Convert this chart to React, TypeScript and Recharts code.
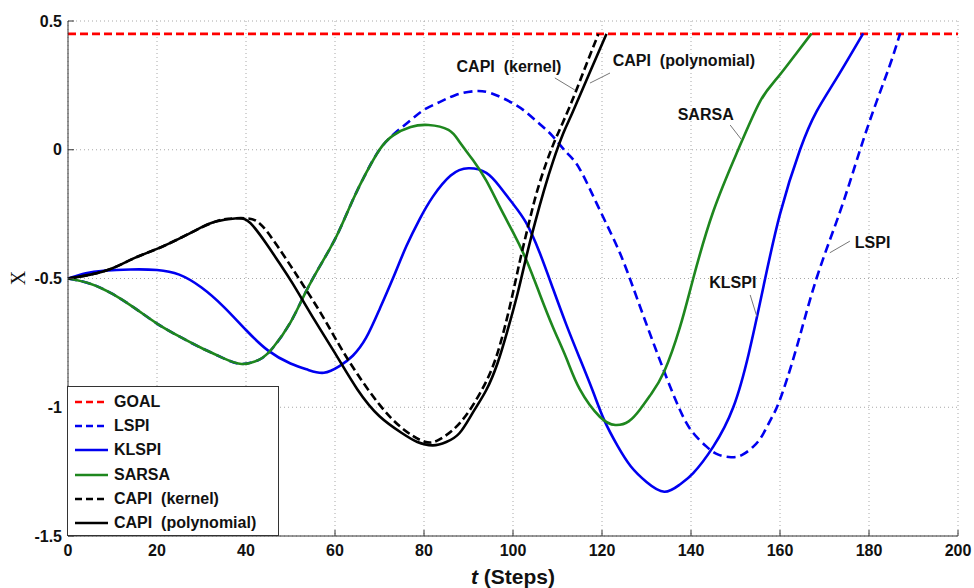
import React from 'react'
import { LineChart, Line, XAxis, YAxis, CartesianGrid, ReferenceLine, ReferenceDot } from 'recharts'

const FONT = "'Liberation Sans', Arial, Helvetica, sans-serif"

const xTicks = [0, 20, 40, 60, 80, 100, 120, 140, 160, 180, 200]
const yTicks = [-1.5, -1, -0.5, 0, 0.5]

const goalT = [0, 200]
const goalX = [0.45, 0.45]

const lspiT = [0, 5, 10, 15, 20, 25, 30, 35, 39, 43, 46, 50, 53.5, 57, 60.5, 64, 67, 70, 73.5, 77, 80, 83.5, 87, 91, 95, 100, 103, 106, 109, 112, 115, 119.5, 124, 128, 133, 137.5, 140.5, 143.5, 146, 149, 151.5, 154, 156, 158, 160, 163.7, 168.2, 173.5, 178, 181.7, 184.7, 187]
const lspiX = [-0.5, -0.52, -0.56, -0.615, -0.675, -0.725, -0.77, -0.81, -0.832, -0.815, -0.77, -0.67, -0.55, -0.44, -0.33, -0.195, -0.09, 0.0, 0.065, 0.115, 0.155, 0.185, 0.212, 0.227, 0.22, 0.18, 0.145, 0.1, 0.051, -0.01, -0.075, -0.234, -0.4, -0.583, -0.817, -1.01, -1.1, -1.153, -1.183, -1.194, -1.185, -1.153, -1.11, -1.045, -0.97, -0.77, -0.5, -0.24, 0.0, 0.187, 0.329, 0.452]

const klspiT = [0, 4, 8, 14, 20, 25, 30, 35, 40, 45, 50, 54, 57.5, 61, 64, 67, 70, 73, 76, 79, 82, 86, 90, 94, 97, 100, 103, 106, 109, 112, 115, 118, 120.5, 123.5, 126.5, 130, 134, 137.5, 140.5, 145, 149.5, 153, 156.3, 160, 164.5, 168.2, 172.7, 178.7]
const klspiX = [-0.5, -0.48, -0.47, -0.465, -0.467, -0.485, -0.535, -0.61, -0.7, -0.78, -0.83, -0.855, -0.866, -0.84, -0.8, -0.73, -0.62, -0.5, -0.376, -0.27, -0.182, -0.1, -0.072, -0.09, -0.143, -0.21, -0.285, -0.4, -0.54, -0.68, -0.81, -0.94, -1.05, -1.15, -1.23, -1.29, -1.328, -1.3, -1.256, -1.153, -1.0, -0.79, -0.53, -0.25, 0.0, 0.148, 0.277, 0.452]

const sarsaT = [0, 5, 10, 15, 20, 25, 30, 35, 39, 43, 46, 50, 53.5, 57, 60.5, 64, 67, 70, 73, 77, 81, 85.5, 88, 91, 94, 97, 100, 103, 106, 109, 112, 115, 119.5, 123, 126, 128.5, 131, 134, 137.5, 140.5, 145, 150.6, 155.5, 159.3, 163.7, 167.1]
const sarsaX = [-0.5, -0.52, -0.56, -0.615, -0.675, -0.725, -0.77, -0.81, -0.832, -0.815, -0.77, -0.67, -0.55, -0.44, -0.33, -0.195, -0.09, 0.0, 0.055, 0.088, 0.096, 0.077, 0.03, -0.04, -0.12, -0.221, -0.32, -0.428, -0.56, -0.69, -0.81, -0.93, -1.037, -1.069, -1.055, -1.01, -0.95, -0.86, -0.69, -0.5, -0.24, 0.0, 0.187, 0.277, 0.375, 0.452]

const capiKerT = [0, 5, 10, 15, 20, 25, 29, 33, 36, 39.8, 43, 46.5, 50, 53, 57, 61, 65, 70, 75, 80.2, 83.5, 86.5, 89.5, 92.6, 95.5, 97.8, 99.8, 101.6, 103.5, 105.3, 107.5, 109.8, 112.8, 116, 119.2]
const capiKerX = [-0.5, -0.485, -0.46, -0.42, -0.385, -0.345, -0.31, -0.28, -0.268, -0.266, -0.285, -0.36, -0.45, -0.53, -0.64, -0.76, -0.87, -0.99, -1.08, -1.134, -1.125, -1.088, -1.03, -0.945, -0.84, -0.712, -0.57, -0.428, -0.29, -0.168, -0.05, 0.051, 0.17, 0.31, 0.45]

const capiPolyT = [0, 5, 10, 15, 20, 25, 29, 33, 38, 41, 44.5, 47.5, 50.5, 55, 60, 65, 70, 75, 78.5, 82, 85, 88, 91, 94, 96.5, 98.6, 101, 103, 105, 107, 109, 111.3, 113, 115, 118, 121]
const capiPolyX = [-0.5, -0.485, -0.46, -0.42, -0.385, -0.345, -0.31, -0.28, -0.266, -0.285, -0.363, -0.44, -0.52, -0.65, -0.79, -0.93, -1.035, -1.1, -1.135, -1.148, -1.135, -1.1, -1.02, -0.933, -0.83, -0.712, -0.56, -0.415, -0.28, -0.156, -0.045, 0.064, 0.13, 0.21, 0.33, 0.45]

// curve labels: text anchor point and leader line ends (data coords)
const noteText = ['CAPI  (kernel)', 'CAPI  (polynomial)', 'SARSA', 'KLSPI', 'LSPI']
const noteT = [99.1, 138.4, 143.3, 149.4, 180.8]
const noteX = [0.325, 0.345, 0.138, -0.514, -0.36]
const leaderFrom = [[109.4, 0.279], [121.8, 0.298], [148.8, 0.096], [153.3, -0.564], [175.7, -0.355]]
const leaderTo = [[113.9, 0.232], [117.3, 0.259], [151.4, 0.038], [154.8, -0.648], [171.2, -0.4]]

const toPoints = (t: number[], x: number[]) => t.map((v, i) => ({ t: v, x: x[i] }))

const series = [
  { name: 'GOAL', data: toPoints(goalT, goalX), color: '#ff0000', dash: '8 4' },
  { name: 'LSPI', data: toPoints(lspiT, lspiX), color: '#0000f0', dash: '9 5' },
  { name: 'KLSPI', data: toPoints(klspiT, klspiX), color: '#0000f0', dash: undefined },
  { name: 'SARSA', data: toPoints(sarsaT, sarsaX), color: '#1e871e', dash: undefined },
  { name: 'CAPI  (kernel)', data: toPoints(capiKerT, capiKerX), color: '#000000', dash: '8 4' },
  { name: 'CAPI  (polynomial)', data: toPoints(capiPolyT, capiPolyX), color: '#000000', dash: undefined },
]

const tickStyle = { fill: '#111', fontSize: 16, fontWeight: 700, fontFamily: FONT }

function LegendBox() {
  return (
    <div
      style={{
        position: 'absolute', left: 67, top: 386, width: 212, height: 150, boxSizing: 'border-box',
        border: '1px solid #333', background: '#fff', padding: '3px 0 0 7px',
      }}
    >
      {series.map((s) => (
        <div key={s.name} style={{ display: 'flex', alignItems: 'center', height: 24.2 }}>
          <svg width={33} height={6} style={{ display: 'block' }}>
            <line x1={0} y1={3} x2={33} y2={3} stroke={s.color} strokeWidth={2.5} strokeDasharray={s.dash ? '7 4' : undefined} />
          </svg>
          <span style={{ marginLeft: 6, fontSize: 16, fontWeight: 700, fontFamily: FONT, color: '#111', whiteSpace: 'pre' }}>{s.name}</span>
        </div>
      ))}
    </div>
  )
}

function XLabel(props: any) {
  const { x, y, width } = props.viewBox
  return (
    <text x={x + width / 2} y={y + 48} textAnchor="middle" fontFamily={FONT} fontWeight={700} fontSize={21} fill="#111">
      <tspan fontStyle="italic">t</tspan>
      <tspan> (Steps)</tspan>
    </text>
  )
}

function YLabel() {
  return (
    <text x={18} y={278} textAnchor="middle" dominantBaseline="central" transform="rotate(-90 18 278)"
      fontFamily="'Liberation Serif', 'Times New Roman', serif" fontSize={20} fill="#111">
      X
    </text>
  )
}

export default function App() {
  return (
    <div style={{ position: 'absolute', left: 0, top: 0, width: 974, height: 588, background: '#fff' }}>
      <LineChart width={974} height={588} margin={{ top: 21, right: 16, bottom: 0, left: 0 }}>
        <CartesianGrid xAxisId="b" yAxisId="l" stroke="#a8a8a8" strokeDasharray="1 3" />
        <XAxis xAxisId="b" type="number" dataKey="t" domain={[0, 200]} ticks={xTicks} height={52}
          axisLine={{ stroke: '#333' }} tickLine={{ stroke: '#333' }} tickSize={-6} tickMargin={15}
          tick={tickStyle} label={<XLabel />} />
        <XAxis xAxisId="top" orientation="top" type="number" dataKey="t" domain={[0, 200]} ticks={xTicks} height={0}
          axisLine={{ stroke: '#333' }} tickLine={{ stroke: '#333' }} tickSize={-6} tick={false} />
        <YAxis yAxisId="l" type="number" domain={[-1.5, 0.5]} ticks={yTicks} width={68}
          axisLine={{ stroke: '#333' }} tickLine={{ stroke: '#333' }} tickSize={-6} tickMargin={12}
          tick={tickStyle} label={<YLabel />} />
        <YAxis yAxisId="r" orientation="right" type="number" domain={[-1.5, 0.5]} ticks={yTicks} width={0}
          axisLine={{ stroke: '#333' }} tickLine={{ stroke: '#333' }} tickSize={-6} tick={false} />
        {series.map((s) => (
          <Line key={s.name} xAxisId="b" yAxisId="l" data={s.data} dataKey="x" type={s.name === 'GOAL' ? 'linear' : 'natural'}
            stroke={s.color} strokeWidth={2.6} strokeDasharray={s.dash} dot={false} activeDot={false}
            isAnimationActive={false} />
        ))}
        {noteText.map((txt, i) => (
          <ReferenceLine key={'l' + i} xAxisId="b" yAxisId="l" segment={[{ x: leaderFrom[i][0], y: leaderFrom[i][1] }, { x: leaderTo[i][0], y: leaderTo[i][1] }]}
            stroke="#777" strokeWidth={1} />
        ))}
        {noteText.map((txt, i) => (
          <ReferenceDot key={'t' + i} xAxisId="b" yAxisId="l" x={noteT[i]} y={noteX[i]} r={0}
            shape={(p: any) => (
              <text x={p.cx} y={p.cy} textAnchor="middle" dominantBaseline="central" fontFamily={FONT}
                fontWeight={700} fontSize={16} fill="#111" style={{ whiteSpace: 'pre' }}>{txt}</text>
            )} />
        ))}
      </LineChart>
      <LegendBox />
    </div>
  )
}
